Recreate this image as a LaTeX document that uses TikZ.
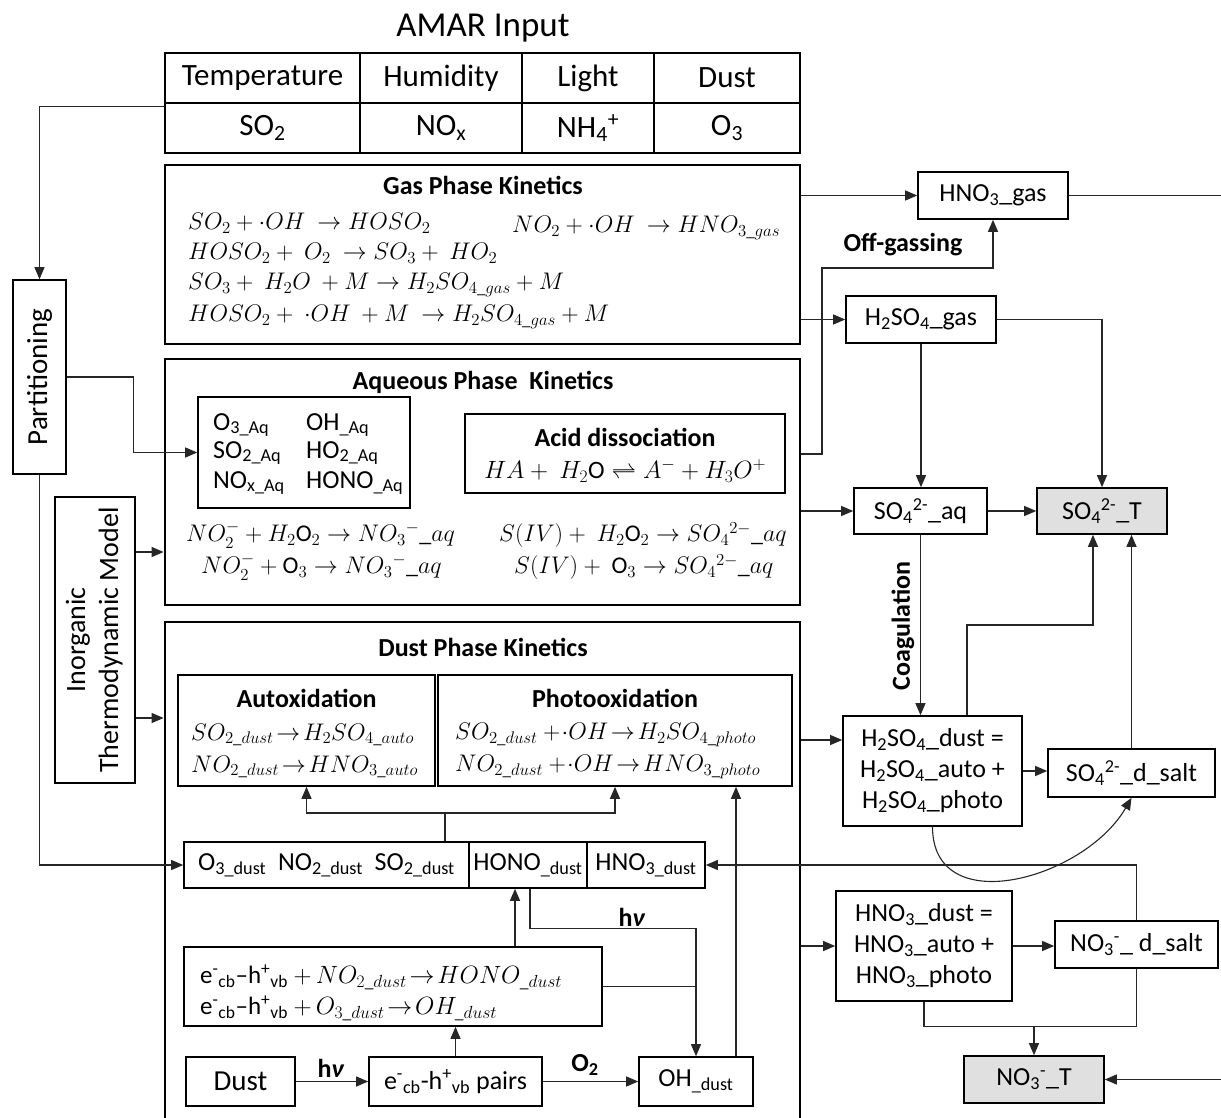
\RequirePackage{fix-cm}
\documentclass[tikz,border=0pt]{standalone}
\usepackage{amsmath}
\usepackage{fontspec}
\setmainfont{Carlito}
\usetikzlibrary{arrows.meta}

\begin{document}
\begin{tikzpicture}[x=1pt,y=-1pt,>={Triangle[length=12pt,width=10pt]},
  font=\fontsize{26}{31}\selectfont,
  box/.style={draw,line width=1.6pt,inner sep=0pt,minimum height=47},
  panel/.style={draw,line width=2.8pt,inner sep=0pt},
  cell/.style={draw,line width=1.4pt,inner sep=0pt,minimum height=50,font=\fontsize{31}{36}\selectfont},
  total/.style={box,fill=black!12},
  head/.style={font=\fontsize{26}{31}\selectfont\bfseries},
  eq/.style={anchor=west,inner sep=0pt,font=\fontsize{24}{29}\selectfont},
  link/.style={line width=1.1pt,black!85}]
\useasboundingbox (0,0) rectangle (1221,1118);
% input table
\node[font=\fontsize{35}{40}\selectfont] (amar) at (483,28) {AMAR Input};
\node[cell,minimum width=195] (t11) at (262.5,78) {Temperature};
\node[cell,minimum width=162] (t12) at (441,78) {Humidity};
\node[cell,minimum width=132] (t13) at (588,78) {Light};
\node[cell,minimum width=146] (t14) at (727,78) {Dust};
\node[cell,minimum width=195] (t21) at (262.5,128) {SO\textsubscript{2}};
\node[cell,minimum width=162] (t22) at (441,128) {NO\textsubscript{x}};
\node[cell,minimum width=132] (t23) at (588,128) {NH\textsubscript{4}\textsuperscript{+}};
\node[cell,minimum width=146] (t24) at (727,128) {O\textsubscript{3}};
% gas phase
\node[panel,minimum width=635,minimum height=179] (gas) at (482.5,254.5) {};
\node[head] (gastitle) at (483,185) {Gas Phase Kinetics};
\node[eq] (g1) at (188,223) {$SO_2+\cdot OH\ \rightarrow HOSO_2$};
\node[eq] (g2) at (188,253) {$HOSO_2+\ O_2\ \rightarrow SO_3+\ HO_2$};
\node[eq] (g3) at (188,285) {$SO_3+\ H_2O\ +M\rightarrow H_2SO_{4\_gas}+M$};
\node[eq] (g4) at (188,317) {$HOSO_2+\ \cdot OH\ +M\ \rightarrow H_2SO_{4\_gas}+M$};
\node[eq] (g5) at (512,228) {$NO_2+\cdot OH\ \rightarrow HNO_{3\_gas}$};
% aqueous phase
\node[panel,minimum width=635,minimum height=246] (aq) at (482.5,482) {};
\node[head] (aqtitle) at (483,382) {Aqueous Phase\ \ Kinetics};
\node[box,minimum width=212,minimum height=111] (aqsp) at (304,452.5) {};
\node[eq,font=\fontsize{26}{31}\selectfont] (sp1) at (213,425) {O\textsubscript{3\_Aq}};
\node[eq,font=\fontsize{26}{31}\selectfont] (sp2) at (213,453) {SO\textsubscript{2\_Aq}};
\node[eq,font=\fontsize{26}{31}\selectfont] (sp3) at (213,483) {NO\textsubscript{x\_Aq}};
\node[eq,font=\fontsize{26}{31}\selectfont] (sp4) at (306,425) {OH\textsubscript{\_Aq}};
\node[eq,font=\fontsize{26}{31}\selectfont] (sp5) at (306,453) {HO\textsubscript{2\_Aq}};
\node[eq,font=\fontsize{26}{31}\selectfont] (sp6) at (306,483) {HONO\textsubscript{\_Aq}};
\node[box,minimum width=320,minimum height=79] (acid) at (625,453.5) {};
\node[head] (acidtitle) at (625,437) {Acid dissociation};
\node[font=\fontsize{25}{30}\selectfont,inner sep=0pt] (acideq) at (625,471) {$HA+\ H_2\mathrm{O}\rightleftharpoons A^-+H_3O^+$};
\node[eq] (a1) at (186,535) {$NO_2^-+H_2\mathrm{O}_2\rightarrow NO_3{}^-\_aq$};
\node[eq] (a2) at (201,567) {$NO_2^-+\mathrm{O}_3\rightarrow NO_3{}^-\_aq$};
\node[eq] (a3) at (499,535) {$S(IV)+\ H_2\mathrm{O}_2\rightarrow SO_4{}^{2-}\_aq$};
\node[eq] (a4) at (514,567) {$S(IV)+\ \mathrm{O}_3\rightarrow SO_4{}^{2-}\_aq$};
% side models
\node[box,minimum width=53,minimum height=194,font=\fontsize{29}{34}\selectfont] (part) at (39.5,377) {\rotatebox{90}{Partitioning}};
\node[box,minimum width=80,minimum height=286,font=\fontsize{28}{33}\selectfont] (inorg) at (95,640)
  {\rotatebox{90}{\begin{tabular}{@{}c@{}}Inorganic\\Thermodynamic Model\end{tabular}}};
% dust phase
\node[panel,minimum width=635,minimum height=503] (dust) at (482.5,873.5) {};
\node[head] (dusttitle) at (483,647) {Dust Phase Kinetics};
\node[box,minimum width=257,minimum height=111] (autox) at (306.5,730.5) {};
\node[head] (autoxtitle) at (306.5,698) {Autoxidation};
\node[eq] (au1) at (191,735) {$SO_{2\_dust}\!\rightarrow\! H_2SO_{4\_auto}$};
\node[eq] (au2) at (191,767) {$NO_{2\_dust}\!\rightarrow\! HNO_{3\_auto}$};
\node[box,minimum width=354,minimum height=111] (photo) at (615,730.5) {};
\node[head] (phototitle) at (615,698) {Photooxidation};
\node[eq] (ph1) at (455,735) {$SO_{2\_dust}+\!\cdot OH\!\rightarrow\! H_2SO_{4\_photo}$};
\node[eq] (ph2) at (455,767) {$NO_{2\_dust}+\!\cdot OH\!\rightarrow\! HNO_{3\_photo}$};
\node[box,minimum width=285,minimum height=46] (dsp) at (326.5,865)
  {O\textsubscript{3\_dust}\ \ NO\textsubscript{2\_dust}\ \ SO\textsubscript{2\_dust}};
\node[box,minimum width=118,minimum height=46] (hono) at (528,865) {HONO\textsubscript{\_dust}};
\node[box,minimum width=118,minimum height=46] (hno3d) at (646,865) {HNO\textsubscript{3\_dust}};
\node[box,minimum width=418,minimum height=79] (eh) at (393,986.5) {};
\node[eq,font=\fontsize{25}{30}\selectfont] (eh1) at (200,977) {e\textsuperscript{-}\textsubscript{cb}--h\textsuperscript{+}\textsubscript{vb} $+\,NO_{2\_dust}\!\rightarrow\! HONO_{\_dust}$};
\node[eq,font=\fontsize{25}{30}\selectfont] (eh2) at (200,1008) {e\textsuperscript{-}\textsubscript{cb}--h\textsuperscript{+}\textsubscript{vb} $+\,O_{3\_dust}\!\rightarrow\! OH_{\_dust}$};
\node[box,minimum width=109,minimum height=49,font=\fontsize{29}{34}\selectfont] (dustsrc) at (240.5,1081.5) {Dust};
\node[box,minimum width=173,minimum height=49] (pairs) at (455.5,1081.5) {e\textsuperscript{-}\textsubscript{cb}-h\textsuperscript{+}\textsubscript{vb} pairs};
\node[box,minimum width=114,minimum height=49] (ohd) at (696,1081.5) {OH\textsubscript{\_dust}};
% right side species
\node[box,minimum width=150] (hno3g) at (993,195.5) {HNO\textsubscript{3}\_gas};
\node[box,minimum width=150] (h2so4g) at (921,319.5) {H\textsubscript{2}SO\textsubscript{4}\_gas};
\node[box,minimum width=133,minimum height=46] (so4aq) at (920.5,511) {SO\textsubscript{4}\textsuperscript{2-}\_aq};
\node[total,minimum width=130,minimum height=46] (so4t) at (1102,511) {SO\textsubscript{4}\textsuperscript{2-}\_T};
\node[box,minimum width=179,minimum height=110,align=center] (h2so4d) at (932.5,771)
  {H\textsubscript{2}SO\textsubscript{4}\_dust =\\H\textsubscript{2}SO\textsubscript{4}\_auto +\\H\textsubscript{2}SO\textsubscript{4}\_photo};
\node[box,minimum width=167,minimum height=48] (so4ds) at (1131.5,773) {SO\textsubscript{4}\textsuperscript{2-}\_d\_salt};
\node[box,minimum width=176,minimum height=110,align=center] (hno3dust) at (924,946)
  {HNO\textsubscript{3}\_dust =\\HNO\textsubscript{3}\_auto +\\HNO\textsubscript{3}\_photo};
\node[box,minimum width=163] (no3ds) at (1136.5,944.5) {NO\textsubscript{3}\textsuperscript{-}\_ d\_salt};
\node[total,minimum width=140] (no3t) at (1034,1079.5) {NO\textsubscript{3}\textsuperscript{-}\_T};
% labels
\node[head] (offgas) at (903,245) {Off-gassing};
\node[head,rotate=90] (coag) at (903,626) {Coagulation};
\node[head] (hv1) at (632,917) {h\textit{ν}};
\node[head] (hv2) at (331,1068) {h\textit{ν}};
\node[head] (otwo) at (585,1065) {O\textsubscript{2}};
% connectors, left
\draw[link,->] ([yshift=-4pt]t21.north west) -| (part.north);
\draw[link,->] (part.east) -- ++(67,0) |- (aqsp.west);
\draw[link,->] (part.south) |- (dsp.west);
\draw[link,->] (inorg.east |- 0,552) -- (aq.west |- 0,552);
\draw[link,->] (inorg.east |- 0,718) -- (dust.west |- 0,718);
% connectors, dust phase
\coordinate (fork) at (445,813);
\draw[link] (fork) -- (fork |- dsp.north);
\draw[link,->] (fork) -| (autox.south);
\draw[link,->] (fork) -| (photo.south);
\draw[link,->] ([xshift=-13pt]hono.south |- eh.north) -- ([xshift=-13pt]hono.south);
\draw[link,->] ([xshift=2pt]hono.south) -- ++(0,40) -| (ohd.north);
\draw[link] (eh.east) -- (eh.east -| ohd.north);
\draw[link,->] ([xshift=40pt]ohd.north) -- ([xshift=40pt]ohd.north |- photo.south);
\draw[link,->] (dustsrc.east) -- (pairs.west);
\draw[link,->] (pairs.north) -- (pairs.north |- eh.south);
\draw[link,->] (pairs.east) -- (ohd.west);
% connectors, right
\coordinate (gasout) at (1221,195.5);
\coordinate (no3in) at (1221,1079.5);
\coordinate (ogbend) at (822,268);
\coordinate (sbend) at (1093,625);
\draw[link,->] (gas.east |- hno3g.west) -- (hno3g.west);
\draw[link] (hno3g.east) -- (gasout);
\draw[link,->] (gas.east |- h2so4g.west) -- (h2so4g.west);
\draw[link,->] (aq.east |- 0,454) -| (ogbend) -| (hno3g.south);
\draw[link,->] (h2so4g.south) -- (h2so4g.south |- so4aq.north);
\draw[link,->] (h2so4g.east) -| (so4t.north);
\draw[link,->] (aq.east |- so4aq.west) -- (so4aq.west);
\draw[link,->] (so4aq.east) -- (so4t.west);
\draw[link,->] (so4aq.south) -- (so4aq.south |- h2so4d.north);
\draw[link,->] (h2so4d.north -| 967,0) |- (sbend) -- (sbend |- so4t.south);
\draw[link,->] (so4ds.north) -- (so4ds.north |- so4t.south);
\draw[link,->] (dust.east |- 0,740) -- (h2so4d.west |- 0,740);
\draw[link,->] (h2so4d.east) -- (h2so4d.east -| so4ds.west);
\draw[link,->] (h2so4d.south) to[out=-90,in=-120,looseness=1.2] (so4ds.south);
\draw[link,->] (dust.east |- hno3dust.west) -- (hno3dust.west);
\draw[link,->] (hno3dust.east) -- (hno3dust.east -| no3ds.west);
\draw[link,->] (no3ds.north) |- (hno3d.east);
\draw[link] (hno3dust.south) -- ++(0,25) -| (no3ds.south);
\draw[link,->] (no3t.north |- 0,1026) -- (no3t.north);
\draw[link,->] (no3in) -- (no3t.east);
\end{tikzpicture}
\end{document}
